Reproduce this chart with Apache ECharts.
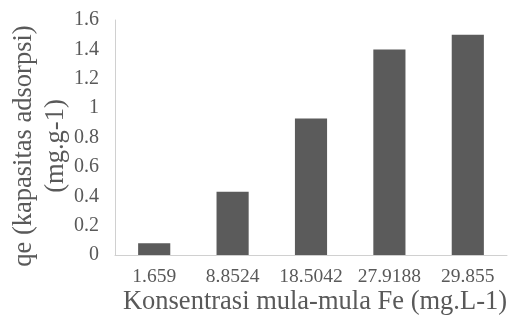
<!DOCTYPE html>
<html>
<head>
<meta charset="utf-8">
<script src="https://cdn.jsdelivr.net/npm/echarts@6/dist/echarts.min.js"></script>
<style>html,body{margin:0;padding:0;background:#fff}#c{width:509px;height:325px}</style>
</head>
<body>
<div id="c"></div>
<script>
const categories = ['1.659', '8.8524', '18.5042', '27.9188', '29.855'];
const qeValues = [0.08, 0.43, 0.93, 1.40, 1.50];
const yAxisTitle = 'qe (kapasitas adsorpsi)\n(mg.g-1)';
const xAxisTitle = 'Konsentrasi mula-mula Fe (mg.L-1)';

const chart = echarts.init(document.getElementById('c'), null, {renderer: 'canvas'});
const font = '"Liberation Serif", "Times New Roman", serif';
chart.setOption({
  animation: false,
  backgroundColor: '#ffffff',
  grid: {left: 115, right: 2, top: 20, bottom: 70, containLabel: false},
  xAxis: {
    type: 'category',
    data: categories,
    axisLine: {show: true, lineStyle: {color: '#d0d0d0', width: 1}},
    axisTick: {show: false},
    axisLabel: {color: '#595959', fontFamily: font, fontSize: 19.5, margin: 12,
      interval: 0, hideOverlap: false},
    splitLine: {show: false}
  },
  yAxis: {
    type: 'value',
    min: 0, max: 1.6, interval: 0.2,
    axisLine: {show: true, lineStyle: {color: '#d0d0d0', width: 1}},
    axisTick: {show: false},
    splitLine: {show: false},
    axisLabel: {color: '#595959', fontFamily: font, fontSize: 20, margin: 16,
      formatter: v => String(parseFloat(v.toFixed(1)))}
  },
  series: [{
    type: 'bar',
    data: qeValues,
    barWidth: '41%',
    itemStyle: {color: '#5b5b5b'}
  }],
  graphic: [
    {type: 'text', x: 40, y: 146, rotation: Math.PI / 2,
      style: {text: yAxisTitle, fill: '#595959', font: '26.5px ' + font,
        align: 'center', verticalAlign: 'middle', lineHeight: 32}},
    {type: 'text', x: 315, y: 302,
      style: {text: xAxisTitle, fill: '#595959', font: '26.5px ' + font,
        align: 'center', verticalAlign: 'middle'}}
  ]
});
</script>
</body>
</html>
